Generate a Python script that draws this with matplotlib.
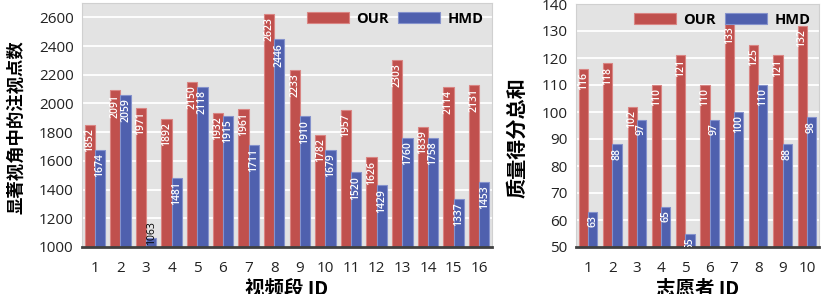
import matplotlib
matplotlib.use("Agg")
import matplotlib.pyplot as plt
import numpy as np

plt.rcParams['font.family'] = ['Open Sans', 'Noto Sans CJK SC', 'DejaVu Sans']

# Left chart data
seg_ids = [str(i) for i in range(1, 17)]
our_left = [1852, 2091, 1971, 1892, 2150, 1932, 1961, 2623, 2233, 1782, 1957, 1626, 2303, 1839, 2114, 2131]
hmd_left = [1674, 2059, 1063, 1481, 2118, 1915, 1711, 2446, 1910, 1679, 1520, 1429, 1760, 1758, 1337, 1453]
left_yticks = [1000, 1200, 1400, 1600, 1800, 2000, 2200, 2400, 2600]

# Right chart data
vol_ids = [str(i) for i in range(1, 11)]
our_right = [116, 118, 102, 110, 121, 110, 133, 125, 121, 132]
hmd_right = [63, 88, 97, 65, 55, 97, 100, 110, 88, 98]
right_yticks = [50, 60, 70, 80, 90, 100, 110, 120, 130, 140]

RED = '#c0504d'
BLUE = '#4f60ae'
RED_E = '#d98583'
BLUE_E = '#8592cc'
BG = '#e3e3e3'

fig = plt.figure(figsize=(8.3, 2.94), dpi=100)
cjk = ['Noto Sans CJK SC', 'DejaVu Sans']


def draw(ax, cats, our, hmd, yticks, ylim, ylabel, xlabel, w, ylab_xy, ylab_size):
    x = np.arange(1, len(cats) + 1)
    ax.set_facecolor(BG)
    ax.set_axisbelow(True)
    ax.yaxis.grid(True, color='white', linewidth=1.3)
    b1 = ax.bar(x - w / 2, our, width=w, color=RED, edgecolor=RED_E, linewidth=0.8, label='OUR')
    b2 = ax.bar(x + w / 2, hmd, width=w, color=BLUE, edgecolor=BLUE_E, linewidth=0.8, label='HMD')
    ax.set_ylim(*ylim)
    ax.set_xlim(0.5, len(cats) + 0.5)
    ax.set_xticks(x)
    ax.set_xticklabels(cats)
    ax.set_yticks(yticks)
    ax.tick_params(axis='both', length=0, labelsize=11, colors='#222222')
    ax.tick_params(axis='x', pad=10)
    ax.tick_params(axis='y', pad=6)
    for s in ['top', 'right', 'left']:
        ax.spines[s].set_color('#d0d0d0')
        ax.spines[s].set_linewidth(0.8)
    ax.spines['bottom'].set_color('#404040')
    ax.spines['bottom'].set_linewidth(2)
    span = ylim[1] - ylim[0]
    for bars, vals in ((b1, our), (b2, hmd)):
        for rect, v in zip(bars, vals):
            cx = rect.get_x() + rect.get_width() / 2
            if v - ylim[0] < 0.08 * span and v - ylim[0] > 0.03 * span and len(str(v)) > 2:
                ax.text(cx, ylim[0] + 0.01 * span, str(v), rotation=90, ha='center', va='bottom',
                        fontsize=7.5, color='black', fontfamily='Open Sans')
            else:
                ax.annotate(str(v), (cx, v), xytext=(0, -2.5), textcoords='offset points',
                            rotation=90, ha='center', va='top', fontsize=7.5, color='white',
                            fontweight='semibold', fontfamily='Open Sans', annotation_clip=True,
                            clip_on=True)
    ax.legend(loc='upper right', ncol=2, frameon=False, handlelength=2.9, handleheight=0.8,
              columnspacing=0.6, handletextpad=0.5, borderaxespad=0.2,
              prop={'weight': 'bold', 'size': 10.5, 'family': 'Open Sans'})
    ax.set_xlabel(xlabel, fontsize=14, fontweight='bold', family=cjk, labelpad=2)
    ax.set_ylabel(ylabel, fontsize=ylab_size, fontweight='bold', family=cjk)
    ax.yaxis.set_label_coords(*ylab_xy)


axL = fig.add_axes([82 / 830, 47 / 294, 410 / 830, 244 / 294])
draw(axL, seg_ids, our_left, hmd_left, left_yticks, (1000, 2700),
     '显著视角中的注视点数', '视频段 ID', 0.4, (-0.139, 0.49), 12.5)

axR = fig.add_axes([576 / 830, 47 / 294, 243 / 830, 243 / 294])
draw(axR, vol_ids, our_right, hmd_right, right_yticks, (50, 140),
     '质量得分总和', '志愿者 ID', 0.38, (-0.20, 0.45), 14.5)

fig.savefig('out.png', dpi=100)
